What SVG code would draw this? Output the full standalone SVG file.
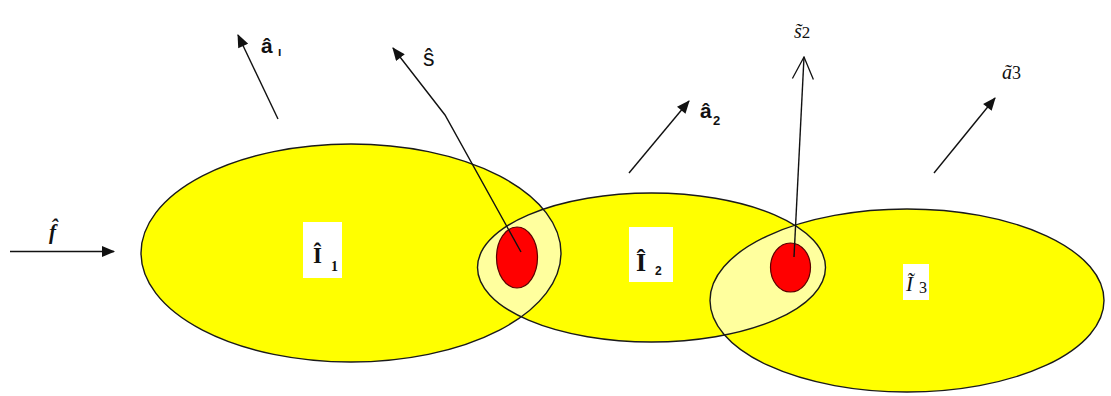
<svg xmlns="http://www.w3.org/2000/svg" width="1111" height="396" viewBox="0 0 1111 396">
  <style>
    .fill { fill: #FFFF00; stroke: none; }
    .outline { fill: none; stroke: #1a1a1a; stroke-width: 1.4; }
    .overlap { fill: #FFFF9E; stroke: none; }
    .dot { fill: #FF0000; stroke: #5a0000; stroke-width: 1.2; }
    .box { fill: #FFFFFF; stroke: none; }
    .edge { fill: none; stroke: #111; stroke-width: 1.4; }
    .sans { font-family: "Liberation Sans", Arial, sans-serif; fill: #111; }
    .serif { font-family: "Liberation Serif", "Times New Roman", serif; fill: #111; }
  </style>
  <defs>
    <marker id="tri" viewBox="0 0 12 10" refX="11" refY="5" markerWidth="14" markerHeight="11" markerUnits="userSpaceOnUse" orient="auto">
      <path d="M0,0 L12,5 L0,10 Z" fill="#111"/>
    </marker>
    <marker id="vee" viewBox="0 0 24 24" refX="23" refY="12" markerWidth="24" markerHeight="24" markerUnits="userSpaceOnUse" orient="auto">
      <path d="M1,1.5 L23,12 L1,22.5" fill="none" stroke="#111" stroke-width="1.3"/>
    </marker>
    <ellipse id="e1" cx="351" cy="253" rx="210" ry="109"/>
    <ellipse id="e2" cx="651.5" cy="267.5" rx="174" ry="74.5"/>
    <ellipse id="e3" cx="907" cy="300.5" rx="197" ry="91.5"/>
    <clipPath id="c1"><use href="#e1"/></clipPath>
    <clipPath id="c3"><use href="#e3"/></clipPath>
  </defs>

  <g id="node-I1">
    <use href="#e1" class="fill"/>
  </g>
  <g id="node-I2">
    <use href="#e2" class="fill"/>
  </g>
  <g id="node-I3">
    <use href="#e3" class="fill"/>
  </g>

  <g id="overlaps">
    <use href="#e2" class="overlap" clip-path="url(#c1)"/>
    <use href="#e2" class="overlap" clip-path="url(#c3)"/>
    <use href="#e1" class="outline"/>
    <use href="#e2" class="outline"/>
    <use href="#e3" class="outline"/>
  </g>

  <g id="node-dot1">
    <ellipse class="dot" cx="517" cy="257.5" rx="20.5" ry="30.5"/>
  </g>
  <g id="node-dot2">
    <ellipse class="dot" cx="790.5" cy="267.5" rx="20" ry="24.5"/>
  </g>

  <g id="labels-nodes">
    <rect class="box" x="303" y="222" width="39" height="56"/>
    <text class="serif" x="313" y="263" font-size="23" font-weight="bold">Î</text>
    <text class="serif" x="331" y="271" font-size="14" font-weight="bold">1</text>

    <rect class="box" x="629" y="227" width="44" height="55"/>
    <text class="serif" x="636" y="271" font-size="26" font-weight="bold">Î</text>
    <text class="sans" x="655" y="275" font-size="12" font-weight="bold">2</text>

    <rect class="box" x="903" y="264" width="26" height="36"/>
    <text class="serif" x="906" y="291" font-size="21" font-style="italic">Ĩ</text>
    <text class="serif" x="919" y="293" font-size="16">3</text>
  </g>

  <g id="connectors">
    <line class="edge" x1="10" y1="251.5" x2="114" y2="251.5" marker-end="url(#tri)"/>
    <line class="edge" x1="278" y1="119" x2="238" y2="35" marker-end="url(#tri)"/>
    <polyline class="edge" points="521,252 445,115 393,48" marker-end="url(#tri)"/>
    <line class="edge" x1="629" y1="173" x2="689" y2="101" marker-end="url(#tri)"/>
    <line class="edge" x1="794" y1="257" x2="804" y2="57" marker-end="url(#vee)"/>
    <line class="edge" x1="934" y1="173" x2="995" y2="98" marker-end="url(#tri)"/>
  </g>

  <g id="labels-edges">
    <text class="serif" x="49" y="239" font-size="21" font-weight="bold" font-style="italic">f̂</text>

    <text class="sans" x="261" y="53" font-size="21" font-weight="bold">â</text>
    <text class="sans" x="278" y="56" font-size="12" font-weight="bold">ı</text>

    <text class="sans" x="423" y="66" font-size="23">ŝ</text>

    <text class="sans" x="700" y="118" font-size="21" font-weight="bold">â</text>
    <text class="sans" x="713" y="125" font-size="13" font-weight="bold">2</text>

    <text class="serif" x="794" y="38" font-size="20"><tspan font-style="italic">s&#x303;</tspan><tspan font-size="17">2</tspan></text>

    <text class="serif" x="1002" y="79" font-size="20"><tspan font-style="italic">a&#x303;</tspan><tspan font-size="18">3</tspan></text>
  </g>
</svg>
